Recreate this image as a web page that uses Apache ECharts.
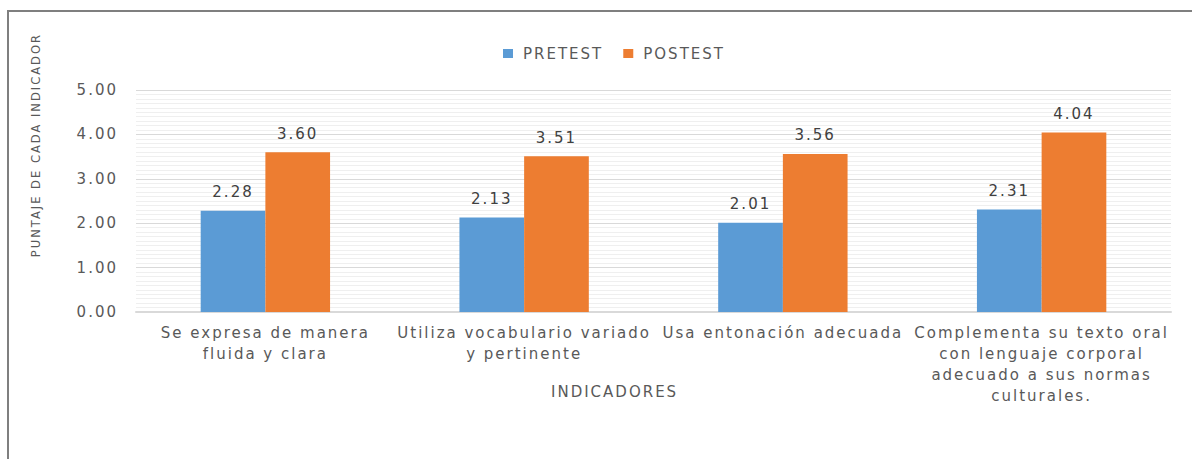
<html lang="en">
<head>
  <meta charset="utf-8">
  <title>Pretest / Postest</title>
  <script src="https://cdn.jsdelivr.net/npm/echarts@6/dist/echarts.min.js"></script>
  <style>
    body { margin: 0; background: #fff; }
    #frame {
      position: absolute; left: 7px; top: 10px; width: 1200px; height: 460px;
      border-left: 2px solid #7f7f7f; border-top: 2px solid #7f7f7f;
    }
    #main { position: absolute; left: 0; top: 0; width: 1192px; height: 459px; }
    /* the reference text is drawn wide, spread the letters a bit */
    #main text { letter-spacing: 2px; }
  </style>
</head>
<body>
  <div id="frame"></div>
  <div id="main"></div>
<script>
  var categories = [
    'Se expresa de manera\nfluida y clara',
    'Utiliza vocabulario variado\ny pertinente',
    'Usa entonación adecuada',
    'Complementa su texto oral\ncon lenguaje corporal\nadecuado a sus normas\nculturales.'
  ];
  var pretest = [2.28, 2.13, 2.01, 2.31];
  var postest = [3.60, 3.51, 3.56, 4.04];
  var yTicks = [0, 1, 2, 3, 4, 5];

  var font = 'DejaVu Sans';
  var myChart = echarts.init(document.getElementById('main'), null, { renderer: 'svg' });
  myChart.setOption({
    animation: false,
    textStyle: { fontFamily: font },
    legend: {
      top: 41, left: 498, itemWidth: 10, itemHeight: 9, itemGap: 34,
      icon: 'rect',
      textStyle: { fontSize: 15, color: '#595959', fontFamily: font, padding: [0, 0, 0, 5] },
      data: ['PRETEST', 'POSTEST']
    },
    grid: { left: 136, right: 21, top: 90, bottom: 147 },
    graphic: [
      {
        // letters are spread by css, so the box is placed from its bottom end
        type: 'text', left: 30, top: 83, rotation: Math.PI / 2,
        style: { text: 'PUNTAJE DE CADA INDICADOR', fontSize: 11.5, fill: '#595959', fontFamily: font }
      },
      {
        type: 'text', left: 551, top: 384,
        style: { text: 'INDICADORES', fontSize: 15, fill: '#595959', fontFamily: font }
      }
    ],
    xAxis: {
      type: 'category', data: categories,
      axisLine: { lineStyle: { color: '#d9d9d9', width: 2 } },
      axisTick: { show: false },
      axisLabel: { fontSize: 15, color: '#595959', lineHeight: 21, margin: 10, interval: 0 }
    },
    yAxis: {
      type: 'value', min: yTicks[0], max: yTicks[yTicks.length - 1], interval: 1,
      axisLine: { show: false }, axisTick: { show: false },
      axisLabel: { fontSize: 15, color: '#595959', margin: 18, formatter: function (v) { return v.toFixed(2); } },
      splitLine: { lineStyle: { color: '#d9d9d9', width: 1 } },
      minorTick: { show: false, splitNumber: 10 },
      minorSplitLine: { show: true, lineStyle: { color: '#efefef', width: 1 } }
    },
    series: [
      {
        name: 'PRETEST', type: 'bar', data: pretest, barGap: '0%', barCategoryGap: '50%',
        itemStyle: { color: '#5b9bd5' },
        label: { show: true, position: 'top', distance: 11, fontSize: 15, color: '#404040',
          formatter: function (p) { return p.value.toFixed(2); } }
      },
      {
        name: 'POSTEST', type: 'bar', data: postest,
        itemStyle: { color: '#ed7d31' },
        label: { show: true, position: 'top', distance: 11, fontSize: 15, color: '#404040',
          formatter: function (p) { return p.value.toFixed(2); } }
      }
    ]
  });
</script>
</body>
</html>
